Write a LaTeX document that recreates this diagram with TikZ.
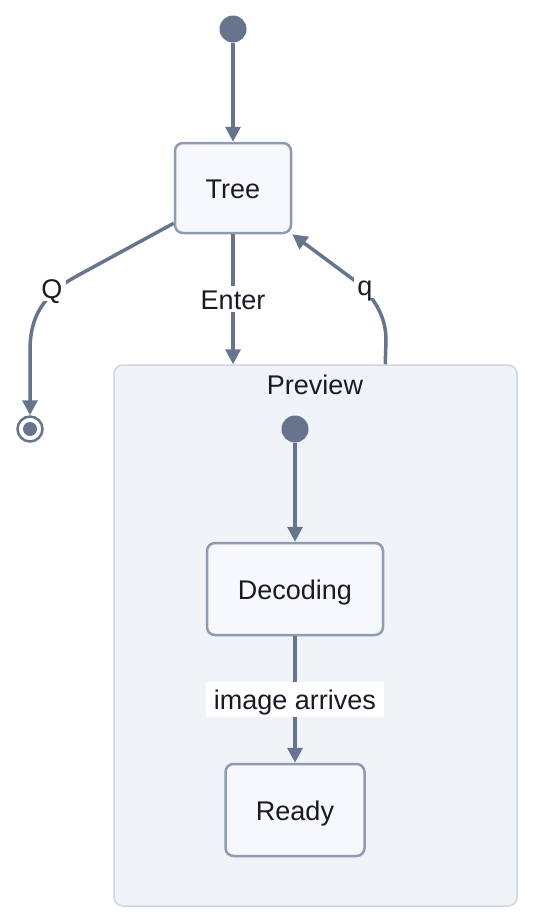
\documentclass[tikz,border=0pt]{standalone}
\usepackage{fontspec}
\setmainfont{Liberation Sans}
\usetikzlibrary{arrows.meta,calc}
\definecolor{edgecol}{HTML}{66758D}
\definecolor{boxline}{HTML}{8E9BB0}
\definecolor{boxfill}{HTML}{F6F8FC}
\definecolor{clusterfill}{HTML}{F0F4F9}
\definecolor{clusterline}{HTML}{CDD6E2}
\definecolor{txt}{HTML}{1A1A24}
\begin{document}
\begin{tikzpicture}[x=1pt,y=-1pt,
  every node/.style={font=\fontsize{27}{31}\selectfont, text=txt, text height=20pt, text depth=0pt},
  statebox/.style={draw=boxline, line width=2.5pt, fill=boxfill, rounded corners=8pt, inner sep=0pt},
  cluster/.style={draw=clusterline, line width=1.5pt, fill=clusterfill, rounded corners=9pt, inner sep=0pt},
  initdot/.style={circle, fill=edgecol, inner sep=0pt, text height=0pt, minimum size=27pt},
  finalring/.style={circle, draw=edgecol, line width=2.5pt, fill=white, inner sep=0pt, text height=0pt, minimum size=25pt},
  finalcore/.style={circle, fill=edgecol, inner sep=0pt, text height=0pt, minimum size=14pt},
  edge/.style={draw=edgecol, line width=3.5pt, -{Triangle[length=15pt,width=15pt]}},
  elabel/.style={fill=white, inner xsep=3pt, inner ysep=3pt}]
\useasboundingbox (0,0) rectangle (534,922);
% container
\node[cluster, minimum width=403pt, minimum height=541pt] (Preview) at (315.5,635.5) {};
\node (PreviewLabel) at (315,384) {Preview};
% states
\node[initdot] (init) at (233,29) {};
\node[statebox, minimum width=116pt, minimum height=90pt] (Tree) at (233,188) {Tree};
\node[initdot] (init2) at (295,429) {};
\node[statebox, minimum width=176pt, minimum height=92pt] (Decoding) at (295,589) {Decoding};
\node[statebox, minimum width=139pt, minimum height=92pt] (Ready) at (295,810) {Ready};
% final state
\node[finalring] (final) at (30,429) {};
\node[finalcore] (finaldot) at (final.center) {};
% edges
\draw[edge] (init) -- (Tree);
\draw[edge] (Tree.south) -- (Tree.south |- Preview.north)
  node[elabel, pos=0.5] (EnterLabel) {Enter};
\coordinate (Qs) at ($(Tree.south west)+(0,-11)$);
\draw[edge] (Qs) -- (75,277) .. controls (42,296) and (30,318) .. (30,350) -- (final.north);
\node[elabel] (QLabel) at (52,288) {Q};
\coordinate (qs) at ($(Preview.north west)+(272,0)$);
\draw[edge] (qs) -- (386,340) .. controls (386,318) and (376,300) .. (358,283) -- (Tree.south east);
\node[elabel] (qLabel) at (365,285) {q};
\draw[edge] (init2) -- (Decoding);
\draw[edge] (Decoding) -- (Ready)
  node[fill=white, inner xsep=8pt, inner ysep=7.5pt, pos=0.5] (ImgLabel) {image arrives};
\end{tikzpicture}
\end{document}
